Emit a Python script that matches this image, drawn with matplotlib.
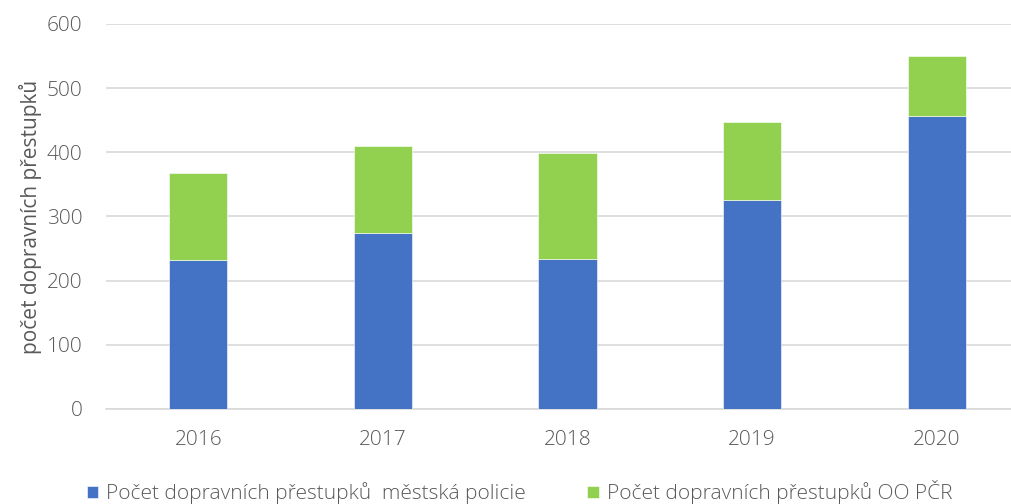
import matplotlib
matplotlib.use("Agg")
import matplotlib.pyplot as plt
import numpy as np

years = ["2016", "2017", "2018", "2019", "2020"]
mestska_policie = [232, 274, 234, 326, 457]
oo_pcr = [136, 136, 165, 121, 93]

BLUE = "#4472C4"
GREEN = "#92D050"
TEXT = "#595959"
GRID = "#D9D9D9"
FS = 15

plt.rcParams["font.family"] = ["Open Sans", "DejaVu Sans"]
plt.rcParams["font.weight"] = "light"
plt.rcParams["font.size"] = FS

fig = plt.figure(figsize=(10.12, 5.04), dpi=100)
ax = fig.add_axes([106 / 1012, 95 / 504, 923 / 1012, 385 / 504])

x = np.arange(len(years))
ax.bar(x, mestska_policie, width=0.315, color=BLUE, edgecolor="white",
       linewidth=0.4, label="Počet dopravních přestupků  městská policie", zorder=3)
ax.bar(x, oo_pcr, width=0.315, bottom=mestska_policie, color=GREEN,
       edgecolor="white", linewidth=0.4,
       label="Počet dopravních přestupků OO PČR", zorder=3)

ax.set_xlim(-0.5, len(years) - 0.5)
ax.set_ylim(0, 600)
ax.set_yticks(range(0, 601, 100))
ax.set_xticks(x)
ax.set_xticklabels(years)
ax.yaxis.grid(True, color=GRID, linewidth=1.2, zorder=0)
for s in ["top", "right", "left"]:
    ax.spines[s].set_visible(False)
ax.spines["bottom"].set_color(GRID)
ax.spines["bottom"].set_linewidth(1.2)
ax.tick_params(axis="both", length=0, colors=TEXT, labelsize=FS)
ax.tick_params(axis="y", pad=17)
ax.tick_params(axis="x", pad=15)
ax.set_ylabel("počet dopravních přestupků", color=TEXT, fontsize=15, labelpad=3)

fig.legend(loc="lower left", bbox_to_anchor=(68 / 1012, -0.038), ncol=2,
           frameon=False, handlelength=0.55, handleheight=0.55, handletextpad=0.38,
           columnspacing=2.95, labelcolor=TEXT, fontsize=FS)

fig.savefig("out.png", dpi=100)
